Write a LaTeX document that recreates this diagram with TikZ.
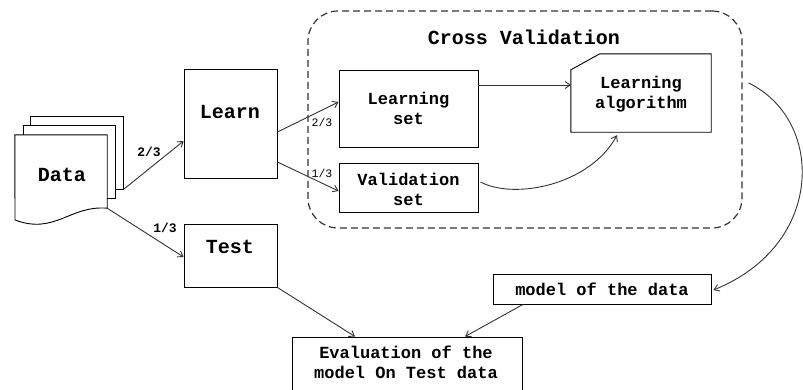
\documentclass[tikz,border=0pt]{standalone}
\usepackage{fontspec}
\setmonofont{Liberation Mono}
\usetikzlibrary{arrows.meta,calc}
\definecolor{ink}{HTML}{333333}
\tikzset{
  box/.style={draw=black, line width=0.9pt, fill=white, inner sep=0pt},
  ghost/.style={inner sep=0pt},
  bigtxt/.style={font=\ttfamily\bfseries\fontsize{20}{24}\selectfont, inner sep=0pt},
  midtxt/.style={font=\ttfamily\bfseries\fontsize{17}{20}\selectfont, align=center, inner sep=0pt},
  frac/.style={font=\ttfamily\bfseries\fontsize{13}{15}\selectfont, inner sep=0pt},
  smallfrac/.style={font=\ttfamily\fontsize{11.5}{13}\selectfont, inner sep=0pt},
  arr/.style={draw=ink, line width=0.9pt, -{Straight Barb[length=5pt,width=7pt]}},
  cvframe/.style={draw=ink, line width=1.2pt, dash pattern=on 7pt off 4pt, rounded corners=30pt, inner sep=0pt},
}
\begin{document}
\begin{tikzpicture}[x=1pt,y=-1pt]
\clip (0,0) rectangle (803,389);

% stacked data sheets
\node[box, minimum width=93, minimum height=73] (sheet3) at (76.5,152.5) {};
\node[box, minimum width=92, minimum height=73] (sheet2) at (69,161.5) {};
\node[ghost, minimum width=92, minimum height=73] (data) at (61,171.5) {};
\draw[line width=0.9pt, fill=white] (data.north west) -- (data.north east) -- (data.south east)
  .. controls (70,205) and (55,235) .. (15,220) -- cycle;
\node[bigtxt] (datatxt) at (62,175) {Data};

% learn / test boxes
\node[box, minimum width=93, minimum height=109] (learn) at (230.5,123.5) {};
\node[bigtxt] (learntxt) at (230,112) {Learn};
\node[box, minimum width=93, minimum height=63] (test) at (230.5,255.5) {};
\node[bigtxt] (testtxt) at (230,247) {Test};

% cross validation frame
\node[cvframe, minimum width=434, minimum height=217] (cv) at (525,119.5) {};
\node[bigtxt] (cvtxt) at (524,37) {Cross Validation};

\node[box, minimum width=139, minimum height=77] (lset) at (408.5,108.5) {};
\node[midtxt] (lsettxt) at (408.5,108) {Learning\\set};
\node[box, minimum width=139, minimum height=49] (vset) at (408.5,187.5) {};
\node[midtxt] (vsettxt) at (408.5,189.5) {Validation\\set};

% learning algorithm (clipped corner card)
\node[ghost, minimum width=140, minimum height=78] (alg) at (641,93) {};
\draw[line width=0.9pt, fill=white] (alg.south west) -- ([yshift=-16]alg.north west)
  -- ([xshift=29]alg.north west) -- (alg.north east) -- (alg.south east) -- cycle;
\node[midtxt] (algtxt) at (641,94) {Learning\\algorithm};

% results
\node[box, minimum width=218, minimum height=30] (model) at (602,289) {};
\node[midtxt] (modeltxt) at (602,289) {model of the data};
\node[box, minimum width=230, minimum height=60] (eval) at (407,367) {};
\node[midtxt, align=center] (evaltxt) at (406,362) {Evaluation of the\\model On Test data};

% connectors
\draw[arr] (sheet3.south east) -- ([yshift=-17.5]learn.west);
\node[frac] (f1) at (149,152) {2/3};
\draw[arr] (data.south east) -- ([yshift=-1.5]test.west);
\node[frac] (f2) at (165,228) {1/3};

\draw[arr] ([yshift=-8.5]learn.east) -- ([yshift=6.5]lset.west);
\node[smallfrac] (f3) at (322,122) {2/3};
\draw[arr] ([yshift=-38.5]learn.east) -- ([yshift=-3.5]vset.west);
\node[smallfrac] (f4) at (322,173) {1/3};

\draw[arr] ([yshift=23.5]lset.east) -- ([yshift=8]alg.west);
\draw[arr] ([xshift=2,yshift=5.5]vset.east) .. controls (515,200) and (590,185) .. ([xshift=-24,yshift=-3]alg.south);

\draw[arr] ([xshift=6,yshift=36.5]cv.east) .. controls (825,120) and (825,245) .. ([xshift=2,yshift=-1]model.east);

\draw[arr] (test.south east) -- ([xshift=-52]eval.north);
\draw[arr] ([xshift=-79]model.south) -- ([xshift=58]eval.north);
\end{tikzpicture}
\end{document}
